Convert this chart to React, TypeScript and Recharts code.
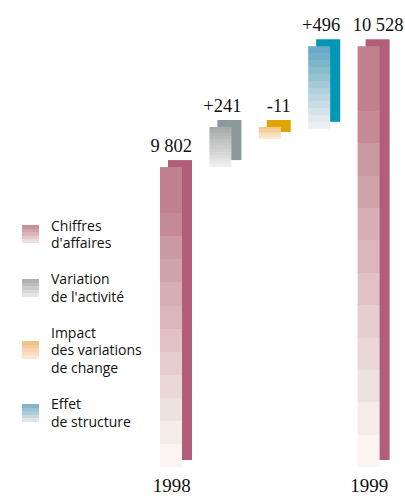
import { BarChart, Bar, XAxis, YAxis, LabelList } from "recharts";

// waterfall: CA 1998 -> 1999 (millions)
const categories = [
  "1998",
  "Variation de l'activité",
  "Impact des variations de change",
  "Effet de structure",
  "1999",
];
const seriesKeys = ["ca", "activite", "change", "structure", "ca"];
const values = [9802, 241, -11, 496, 10528];
const isTotal = [true, false, false, false, true];
const tickLabels = ["1998", "", "", "", "1999"];
const yDomain = [8000, 10800];

const legendKeys = ["ca", "activite", "change", "structure"];
const legendLabels = [
  ["Chiffres", "d'affaires"],
  ["Variation", "de l'activité"],
  ["Impact", "des variations", "de change"],
  ["Effet", "de structure"],
];

const palette: Record<string, { side: string; bands: string[]; swatch: string[] }> = {
  ca: {
    side: "#b25e7a",
    bands: [
      "#c1808d", "#c1808d", "#c58a95", "#cb99a2", "#d0a3ab", "#d7aeb6", "#dcb6bd",
      "#e2c2c7", "#e7ccd0", "#ebd7d8", "#eee2e1", "#f5ecea", "#fbf4f2",
    ],
    swatch: ["#c9919b", "#d3a3ab", "#dcb5bb", "#e6c9cd", "#efdcdf"],
  },
  activite: {
    side: "#8c999c",
    bands: [
      "#a9abab", "#aeb0b0", "#b4b5b5", "#babbbb", "#c0c1c1", "#c6c6c6", "#cbcbcb",
      "#d1d1d1", "#d7d7d7", "#dddddd", "#e3e3e3", "#e9e9e9", "#efefef",
    ],
    swatch: ["#b0b0b0", "#bdbdbd", "#cacaca", "#d7d7d7", "#e5e5e5"],
  },
  change: {
    side: "#e0a600",
    bands: ["#efc78a", "#f2cf9c", "#f6d9b0", "#f9e2c2", "#fce9d2"],
    swatch: ["#ecc48a", "#f1cc98", "#f5d3b3", "#f9dcc4", "#fbe8cc"],
  },
  structure: {
    side: "#0096b5",
    bands: [
      "#68a9c7", "#72afc9", "#7db5cb", "#89bccd", "#96c2d2", "#a3c9d7",
      "#b0d0dc", "#bdd7e1", "#cadde5", "#d6e3ea", "#e1e8ee", "#eceff3",
    ],
    swatch: ["#8ab4c5", "#99c1d3", "#aacbd9", "#c4d8e2", "#dde5e9"],
  },
};

const fmt = (v: number, total: boolean) => {
  const s = Math.abs(v).toString().replace(/\B(?=(\d{3})+(?!\d))/g, " ");
  return total ? s : (v < 0 ? "-" : "+") + s;
};

let running = yDomain[0];
const data = categories.map((name, i) => {
  const v = values[i];
  const range = isTotal[i] ? [yDomain[0], v] : [running, running + v];
  running = isTotal[i] ? v : running + v;
  return { name, series: seriesKeys[i], range, label: fmt(v, isTotal[i]) };
});

const serif = "'Liberation Serif', 'Times New Roman', serif";
const ink = "#111";

const Bands = ({ id, colors }: { id: string; colors: string[] }) => (
  <linearGradient id={id} x1="0" y1="0" x2="0" y2="1">
    {colors.flatMap((c, i) => [
      <stop key={`${i}a`} offset={i / colors.length} stopColor={c} />,
      <stop key={`${i}b`} offset={(i + 1) / colors.length} stopColor={c} />,
    ])}
  </linearGradient>
);

// front face + darker side shifted up/right
const Block = (props: any) => {
  const { x, y, width, height } = props;
  const series = props.payload?.series ?? props.series;
  const top = Math.min(y, y + height);
  const h = Math.abs(height);
  return (
    <g>
      <rect x={x + 8} y={top - 7} width={width + 2} height={h} fill={palette[series].side} />
      <rect x={x} y={top} width={width} height={h} fill={`url(#band-${series})`} />
    </g>
  );
};

// labels flush right with the side face; the last one is pushed to the edge
const TopLabel = (props: any) => {
  const vb = props.viewBox ?? props;
  const top = Math.min(vb.y, vb.y + vb.height);
  const last = props.index === data.length - 1;
  return (
    <text
      x={vb.x + vb.width + (last ? 24 : 10)}
      y={top - 15}
      textAnchor="end"
      fontFamily={serif}
      fontSize={18.5}
      fill={ink}
    >
      {props.value}
    </text>
  );
};

const YearTick = (props: any) => (
  <text x={props.x + 1} y={props.y + 25} textAnchor="middle" fontFamily={serif} fontSize={19} fill={ink}>
    {tickLabels[props.index]}
  </text>
);

const stepped = (colors: string[]) =>
  "linear-gradient(to bottom, " +
  colors
    .map((c, i) => `${c} ${(i / colors.length) * 100}%, ${c} ${((i + 1) / colors.length) * 100}%`)
    .join(", ") +
  ")";

export default function App() {
  return (
    <div style={{ position: "absolute", left: 0, top: 0, width: 405, height: 500, background: "#fff" }}>
      <BarChart width={405} height={500} data={data} margin={{ top: 1, right: 12, bottom: 0, left: 146 }}>
        <defs>
          {Object.keys(palette).map((k) => (
            <Bands key={k} id={`band-${k}`} colors={palette[k].bands} />
          ))}
        </defs>
        <XAxis
          dataKey="name"
          height={33}
          interval={0}
          axisLine={false}
          tickLine={false}
          tickSize={0}
          tickMargin={0}
          tick={<YearTick />}
        />
        <YAxis hide type="number" domain={yDomain} />
        <Bar dataKey="range" barSize={22} minPointSize={12} shape={<Block />} isAnimationActive={false}>
          <LabelList dataKey="label" content={<TopLabel />} />
        </Bar>
      </BarChart>

      <div style={{ position: "absolute", left: 22, top: 216.5, fontFamily: "'Open Sans', sans-serif", fontSize: 14, lineHeight: "17.6px", color: ink }}>
        {legendKeys.map((k, i) => (
          <div key={k} style={{ display: "flex", alignItems: "center", marginBottom: 18.5 }}>
            <div style={{ width: 17, height: 18, marginRight: 12, background: stepped(palette[k].swatch) }} />
            <div>
              {legendLabels[i].map((line) => (
                <div key={line}>{line}</div>
              ))}
            </div>
          </div>
        ))}
      </div>
    </div>
  );
}
